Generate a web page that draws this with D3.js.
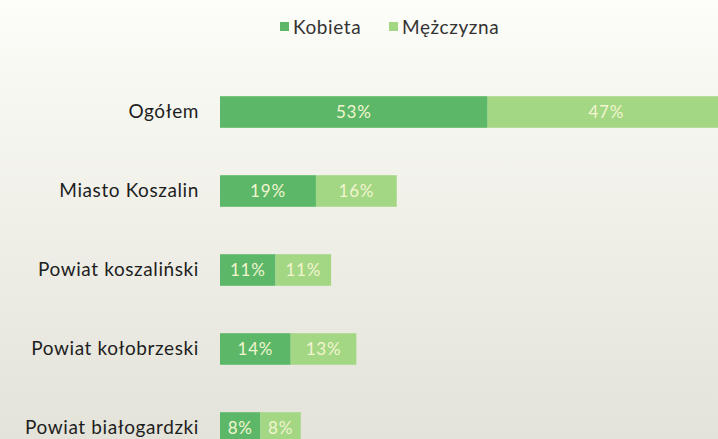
<!DOCTYPE html>
<html lang="pl">
<head>
<meta charset="utf-8">
<script src="https://cdn.jsdelivr.net/npm/d3@7"></script>
<style>
  html, body { margin: 0; padding: 0; background: #f6f6f0; }
  svg { display: block; font-family: Lato, "Open Sans", sans-serif; }
</style>
</head>
<body>
<svg id="chart" width="718" height="439"></svg>
<script>
// Udział kobiet i mężczyzn według obszaru (%)
const categories = ["Ogółem", "Miasto Koszalin", "Powiat koszaliński", "Powiat kołobrzeski", "Powiat białogardzki"];
const seriesNames = ["Kobieta", "Mężczyzna"];
const kobieta = [53, 19, 11, 14, 8];
const mezczyzna = [47, 16, 11, 13, 8];
const colors = ["#5cb868", "#a3d784"];

const W = 718, H = 439;
const svg = d3.select("#chart");

// paper background, slightly greyer towards the bottom
const defs = svg.append("defs");
const grad = defs.append("linearGradient").attr("id", "paper")
  .attr("x1", 0).attr("y1", 0).attr("x2", 0).attr("y2", 1);
grad.append("stop").attr("offset", "0%").attr("stop-color", "#fdfdf9");
grad.append("stop").attr("offset", "45%").attr("stop-color", "#f1f1ea");
grad.append("stop").attr("offset", "100%").attr("stop-color", "#e3e3da");
svg.append("rect").attr("width", W).attr("height", H).attr("fill", "url(#paper)");

const rows = categories.map((c, i) => ({ cat: c, values: [kobieta[i], mezczyzna[i]] }));
const stacked = d3.stack().keys([0, 1]).value((d, k) => d.values[k])(rows);

const x = d3.scaleLinear().domain([0, 100]).range([220, 725]);
const y = d3.scaleBand().domain(categories).range([72.5, 467.5]).paddingInner(0.6).paddingOuter(0.3);

const g = svg.append("g");

stacked.forEach((layer, li) => {
  const lg = g.append("g").attr("fill", colors[li]);
  lg.selectAll("rect").data(layer).join("rect")
    .attr("x", d => x(d[0]))
    .attr("y", d => y(d.data.cat))
    .attr("width", d => x(d[1]) - x(d[0]))
    .attr("height", y.bandwidth());
  g.append("g").selectAll("text").data(layer).join("text")
    .attr("x", d => (x(d[0]) + x(d[1])) / 2)
    .attr("y", d => y(d.data.cat) + y.bandwidth() / 2)
    .attr("dy", "0.35em")
    .attr("text-anchor", "middle")
    .attr("fill", "#f2f5cf")
    .attr("font-size", 17)
    .attr("letter-spacing", 0.8)
    .text(d => (d[1] - d[0]) + "%");
});

// category axis
const yAxis = d3.axisLeft(y).tickSize(0).tickPadding(0);
const ax = svg.append("g").attr("transform", "translate(199,0)").call(yAxis);
ax.select(".domain").remove();
ax.selectAll("text")
  .attr("font-size", 19)
  .attr("letter-spacing", 0.6)
  .attr("fill", "#1e1e1e")
  .attr("font-family", "Lato, 'Open Sans', sans-serif");

// legend
const legend = svg.append("g").attr("font-size", 19);
const legendX = [280, 389];
seriesNames.forEach((n, i) => {
  const lg = legend.append("g").attr("transform", `translate(${legendX[i]},27)`);
  lg.append("rect").attr("x", 0).attr("y", -5).attr("width", 9).attr("height", 9).attr("fill", colors[i]);
  lg.append("text").attr("x", 13).attr("dy", "0.35em").attr("letter-spacing", 0.6)
    .attr("fill", "#333").text(n);
});
</script>
</body>
</html>
